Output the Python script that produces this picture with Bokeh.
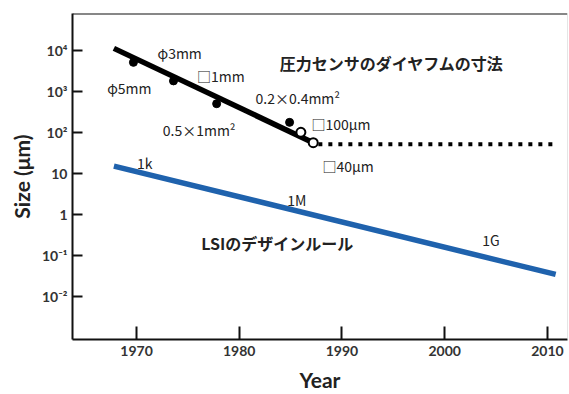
from bokeh.plotting import figure
from bokeh.models import Range1d, FixedTicker, Span, ColumnDataSource
from bokeh.core.properties import value
from bokeh.embed import file_html
from bokeh.resources import INLINE

# Pressure-sensor diaphragm sizes (um) by year
sensor_years = [1969.7, 1973.6, 1977.8, 1984.9]
sensor_sizes = [5100, 1800, 500, 175]
open_years = [1986.0, 1987.2]
open_sizes = [100, 56]
trend_years = [1967.8, 1987.2]
trend_sizes = [11200, 56]
floor_years = [1987.7, 2010.7]
floor_sizes = [51, 51]

# LSI design rule (um)
lsi_years = [1967.8, 2010.8]
lsi_sizes = [15, 0.034]

# Annotations
label_texts = ["φ5mm", "φ3mm", "□1mm", "0.5×1mm²", "0.2×0.4mm²", "□100μm", "□40μm",
               "1k", "1M", "1G"]
label_years = [1969.3, 1974.2, 1978.2, 1976.1, 1985.7, 1989.9, 1990.6,
               1970.8, 1985.6, 2004.5]
label_sizes = [10**3.075, 10**3.93, 10**3.37, 10**2.05, 10**2.83, 10**2.20, 10**1.18,
               10**1.25, 10**0.35, 10**-0.62]

title_texts = ["圧力センサのダイヤフムの寸法", "LSIのデザインルール"]
title_years = [1994.85, 1983.7]
title_sizes = [10**3.68, 10**-0.70]
title_font_sizes = ["16px", "16px"]

y_ticks = [1e-2, 1e-1, 1, 10, 100, 1e3, 1e4]
y_tick_labels = ["10⁻²", "10⁻¹", "1", "10", "10²", "10³", "10⁴"]
x_ticks = [1970, 1980, 1990, 2000, 2010]

x_lo, x_hi = 1963.77, 2011.95
y_lo, y_hi = 10**-3.056, 10**4.90

p = figure(width=569, height=394, y_axis_type="log",
           x_range=Range1d(x_lo, x_hi), y_range=Range1d(y_lo, y_hi),
           output_backend="svg", toolbar_location=None,
           min_border_left=72, min_border_right=2, min_border_top=13, min_border_bottom=54)
p.background_fill_color = "white"
p.border_fill_color = "white"
p.outline_line_color = None
p.grid.visible = False

# Axes
for ax in (p.xaxis[0], p.yaxis[0]):
    ax.axis_line_width = 2
    ax.axis_line_color = "#111111"
    ax.major_tick_line_width = 2
    ax.major_tick_line_color = "#111111"
    ax.major_tick_out = 0
    ax.minor_tick_line_color = None
    ax.major_label_text_font = "Lato"
    ax.major_label_text_font_style = "bold"
    ax.major_label_text_font_size = "14px"
    ax.major_label_text_color = "#333333"
    ax.axis_label_text_font = "Lato"
    ax.axis_label_text_font_style = "bold"
    ax.axis_label_text_color = "#222222"

p.xaxis.ticker = FixedTicker(ticks=x_ticks)
p.xaxis.major_tick_in = 13
p.xaxis.major_label_standoff = 6
p.xaxis.axis_label = "Year"
p.xaxis.axis_label_text_font_size = "21px"
p.xaxis.axis_label_standoff = 8

p.yaxis.ticker = FixedTicker(ticks=y_ticks)
p.yaxis.major_label_overrides = {t: s for t, s in zip(y_ticks, y_tick_labels)}
p.yaxis.major_tick_in = 10
p.yaxis.major_label_standoff = 5
p.yaxis.axis_label = "Size (μm)"
p.yaxis.axis_label_text_font_size = "21px"
p.yaxis.axis_label_standoff = 5

# Frame edges on top and right
p.add_layout(Span(location=y_hi, dimension="width", line_color="#111111", line_width=2))
p.add_layout(Span(location=x_hi, dimension="height", line_color="#cccccc", line_width=1))

# LSI design rule trend
p.line(lsi_years, lsi_sizes, line_color="#1f62ad", line_width=5.5)

# Diaphragm trend and plateau
p.line(trend_years, trend_sizes, line_color="black", line_width=5.5)
p.line(floor_years, floor_sizes, line_color="black", line_width=4, line_dash="4 6")
p.scatter(sensor_years, sensor_sizes, size=8, color="black")
p.scatter(open_years, open_sizes, size=9, fill_color="white", line_color="black", line_width=2)

src = ColumnDataSource(dict(x=label_years, y=label_sizes, t=label_texts))
p.text("x", "y", text="t", source=src, text_font=value("Noto Sans CJK JP"), text_font_size="14px",
       text_color="#222222", text_align="center", text_baseline="middle")

tsrc = ColumnDataSource(dict(x=title_years, y=title_sizes, t=title_texts, fs=title_font_sizes))
p.text("x", "y", text="t", source=tsrc, text_font=value("Noto Sans CJK JP"),
       text_font_size="fs", text_font_style="bold", text_color="#222222",
       text_align="center", text_baseline="middle")

open("out.html", "w").write(file_html(p, INLINE))
